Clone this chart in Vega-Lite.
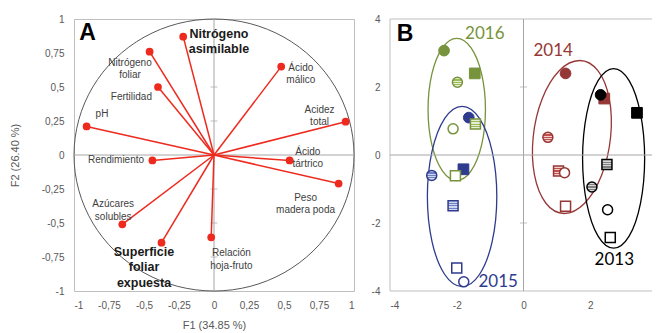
{
  "$schema": "https://vega.github.io/schema/vega-lite/v6.json",
  "background": "white",
  "padding": {"left": 8, "top": 13, "right": 0, "bottom": 0},
  "spacing": 14,
  "config": {
    "view": {"stroke": null},
    "font": "Liberation Sans",
    "axis": {"grid": false, "ticks": false, "domain": false, "labelFont": "Liberation Sans", "labelFontSize": 10, "labelColor": "#595959", "titleFont": "Liberation Sans", "titleFontSize": 11, "titleFontWeight": "normal", "titleColor": "#595959", "labelPadding": 9, "titlePadding": 9, "labelOverlap": false}
  },
  "datasets": {
    "circle": [
      {"i": 0, "x": 1, "y": 0}, {"i": 1, "x": 0.9659, "y": 0.2588}, {"i": 2, "x": 0.866, "y": 0.5}, {"i": 3, "x": 0.7071, "y": 0.7071},
      {"i": 4, "x": 0.5, "y": 0.866}, {"i": 5, "x": 0.2588, "y": 0.9659}, {"i": 6, "x": 0, "y": 1}, {"i": 7, "x": -0.2588, "y": 0.9659},
      {"i": 8, "x": -0.5, "y": 0.866}, {"i": 9, "x": -0.7071, "y": 0.7071}, {"i": 10, "x": -0.866, "y": 0.5}, {"i": 11, "x": -0.9659, "y": 0.2588},
      {"i": 12, "x": -1, "y": 0}, {"i": 13, "x": -0.9659, "y": -0.2588}, {"i": 14, "x": -0.866, "y": -0.5}, {"i": 15, "x": -0.7071, "y": -0.7071},
      {"i": 16, "x": -0.5, "y": -0.866}, {"i": 17, "x": -0.2588, "y": -0.9659}, {"i": 18, "x": 0, "y": -1}, {"i": 19, "x": 0.2588, "y": -0.9659},
      {"i": 20, "x": 0.5, "y": -0.866}, {"i": 21, "x": 0.7071, "y": -0.7071}, {"i": 22, "x": 0.866, "y": -0.5}, {"i": 23, "x": 0.9659, "y": -0.2588}
    ],
    "vars": [
      {"var": "Nitrógeno asimilable", "x": -0.22, "y": 0.87},
      {"var": "Nitrógeno foliar", "x": -0.46, "y": 0.76},
      {"var": "Fertilidad", "x": -0.40, "y": 0.50},
      {"var": "pH", "x": -0.91, "y": 0.21},
      {"var": "Ácido málico", "x": 0.48, "y": 0.65},
      {"var": "Acidez total", "x": 0.94, "y": 0.245},
      {"var": "Ácido tártrico", "x": 0.54, "y": -0.04},
      {"var": "Rendimiento", "x": -0.44, "y": -0.04},
      {"var": "Peso madera poda", "x": 0.89, "y": -0.21},
      {"var": "Azúcares solubles", "x": -0.655, "y": -0.51},
      {"var": "Superficie foliar expuesta", "x": -0.375, "y": -0.645},
      {"var": "Relación hoja-fruto", "x": -0.02, "y": -0.605}
    ],
    "labelsA": [
      {"text": "Nitrógeno\nfoliar", "x": -0.60, "y": 0.676},
      {"text": "Fertilidad", "x": -0.59, "y": 0.43},
      {"text": "pH", "x": -0.80, "y": 0.30},
      {"text": "Ácido\nmálico", "x": 0.62, "y": 0.642},
      {"text": "Acidez\ntotal", "x": 0.754, "y": 0.331},
      {"text": "Ácido\ntártrico", "x": 0.67, "y": 0.022},
      {"text": "Rendimiento", "x": -0.70, "y": -0.04},
      {"text": "Peso\nmadera poda", "x": 0.654, "y": -0.314},
      {"text": "Azúcares\nsolubles", "x": -0.72, "y": -0.3625},
      {"text": "Relación\nhoja-fruto", "x": 0.124, "y": -0.723}
    ],
    "boldA": [
      {"text": "Nitrógeno\nasimilable", "x": 0.035, "y": 0.89},
      {"text": "Superficie\nfoliar\nexpuesta", "x": -0.50, "y": -0.711}
    ],
    "ticksA": [{"y": 0.75}, {"y": 0.5}, {"y": 0.25}, {"y": -0.25}, {"y": -0.5}, {"y": -0.75}],
    "ellipses": [
      {"year": 2016, "i": 0, "x": -1.14, "y": 1.34}, {"year": 2016, "i": 1, "x": -1.255, "y": 2.385}, {"year": 2016, "i": 2, "x": -1.57, "y": 3.15},
      {"year": 2016, "i": 3, "x": -2.0, "y": 3.43}, {"year": 2016, "i": 4, "x": -2.43, "y": 3.15}, {"year": 2016, "i": 5, "x": -2.745, "y": 2.385},
      {"year": 2016, "i": 6, "x": -2.86, "y": 1.34}, {"year": 2016, "i": 7, "x": -2.745, "y": 0.295}, {"year": 2016, "i": 8, "x": -2.43, "y": -0.47},
      {"year": 2016, "i": 9, "x": -2.0, "y": -0.75}, {"year": 2016, "i": 10, "x": -1.57, "y": -0.47}, {"year": 2016, "i": 11, "x": -1.255, "y": 0.295},
      {"year": 2015, "i": 0, "x": -0.80, "y": -1.22}, {"year": 2015, "i": 1, "x": -0.939, "y": 0.105}, {"year": 2015, "i": 2, "x": -1.32, "y": 1.075},
      {"year": 2015, "i": 3, "x": -1.84, "y": 1.43}, {"year": 2015, "i": 4, "x": -2.36, "y": 1.075}, {"year": 2015, "i": 5, "x": -2.741, "y": 0.105},
      {"year": 2015, "i": 6, "x": -2.88, "y": -1.22}, {"year": 2015, "i": 7, "x": -2.741, "y": -2.545}, {"year": 2015, "i": 8, "x": -2.36, "y": -3.515},
      {"year": 2015, "i": 9, "x": -1.84, "y": -3.87}, {"year": 2015, "i": 10, "x": -1.32, "y": -3.515}, {"year": 2015, "i": 11, "x": -0.939, "y": -2.545},
      {"year": 2014, "i": 0, "x": 2.61, "y": 0.53}, {"year": 2014, "i": 1, "x": 2.57, "y": 1.655}, {"year": 2014, "i": 2, "x": 2.229, "y": 2.479},
      {"year": 2014, "i": 3, "x": 1.68, "y": 2.78}, {"year": 2014, "i": 4, "x": 1.069, "y": 2.479}, {"year": 2014, "i": 5, "x": 0.56, "y": 1.655},
      {"year": 2014, "i": 6, "x": 0.29, "y": 0.53}, {"year": 2014, "i": 7, "x": 0.33, "y": -0.595}, {"year": 2014, "i": 8, "x": 0.671, "y": -1.419},
      {"year": 2014, "i": 9, "x": 1.22, "y": -1.72}, {"year": 2014, "i": 10, "x": 1.831, "y": -1.419}, {"year": 2014, "i": 11, "x": 2.34, "y": -0.595},
      {"year": 2013, "i": 0, "x": 3.63, "y": -0.10}, {"year": 2013, "i": 1, "x": 3.505, "y": 1.22}, {"year": 2013, "i": 2, "x": 3.165, "y": 2.186},
      {"year": 2013, "i": 3, "x": 2.70, "y": 2.54}, {"year": 2013, "i": 4, "x": 2.235, "y": 2.186}, {"year": 2013, "i": 5, "x": 1.895, "y": 1.22},
      {"year": 2013, "i": 6, "x": 1.77, "y": -0.10}, {"year": 2013, "i": 7, "x": 1.895, "y": -1.42}, {"year": 2013, "i": 8, "x": 2.235, "y": -2.386},
      {"year": 2013, "i": 9, "x": 2.70, "y": -2.74}, {"year": 2013, "i": 10, "x": 3.165, "y": -2.386}, {"year": 2013, "i": 11, "x": 3.505, "y": -1.42}
    ],
    "obs": [
      {"year": 2016, "shape": "circle", "fill": "filled", "x": -2.38, "y": 3.07},
      {"year": 2016, "shape": "circle", "fill": "striped", "x": -1.98, "y": 2.14},
      {"year": 2016, "shape": "square", "fill": "filled", "x": -1.46, "y": 2.40},
      {"year": 2016, "shape": "circle", "fill": "open", "x": -2.11, "y": 0.77},
      {"year": 2016, "shape": "square", "fill": "striped", "x": -1.44, "y": 0.91},
      {"year": 2016, "shape": "square", "fill": "open", "x": -2.04, "y": -0.61},
      {"year": 2015, "shape": "circle", "fill": "filled", "x": -1.64, "y": 1.10},
      {"year": 2015, "shape": "square", "fill": "filled", "x": -1.80, "y": -0.42},
      {"year": 2015, "shape": "circle", "fill": "striped", "x": -2.75, "y": -0.60},
      {"year": 2015, "shape": "square", "fill": "striped", "x": -2.11, "y": -1.49},
      {"year": 2015, "shape": "square", "fill": "open", "x": -2.00, "y": -3.32},
      {"year": 2015, "shape": "circle", "fill": "open", "x": -1.79, "y": -3.73},
      {"year": 2014, "shape": "circle", "fill": "filled", "x": 1.26, "y": 2.40},
      {"year": 2014, "shape": "square", "fill": "filled", "x": 2.42, "y": 1.66},
      {"year": 2014, "shape": "circle", "fill": "striped", "x": 0.73, "y": 0.52},
      {"year": 2014, "shape": "square", "fill": "striped", "x": 1.05, "y": -0.47},
      {"year": 2014, "shape": "circle", "fill": "open", "x": 1.23, "y": -0.52},
      {"year": 2014, "shape": "square", "fill": "open", "x": 1.26, "y": -1.51},
      {"year": 2013, "shape": "circle", "fill": "filled", "x": 2.31, "y": 1.77},
      {"year": 2013, "shape": "square", "fill": "filled", "x": 3.40, "y": 1.24},
      {"year": 2013, "shape": "square", "fill": "striped", "x": 2.50, "y": -0.28},
      {"year": 2013, "shape": "circle", "fill": "striped", "x": 2.05, "y": -0.94},
      {"year": 2013, "shape": "circle", "fill": "open", "x": 2.52, "y": -1.61},
      {"year": 2013, "shape": "square", "fill": "open", "x": 2.60, "y": -2.43}
    ],
    "yearLabels": [
      {"year": 2016, "x": -1.16, "y": 3.57},
      {"year": 2014, "x": 0.89, "y": 3.07},
      {"year": 2015, "x": -0.76, "y": -3.73},
      {"year": 2013, "x": 2.72, "y": -3.09}
    ],
    "ticksB": [{"y": 2}, {"y": -2}]
  },
  "hconcat": [
    {
      "width": 280,
      "height": 272,
      "view": {"stroke": "#BFBFBF", "strokeWidth": 1},
      "layer": [
        {
          "data": {"name": "circle"},
          "mark": {"type": "line", "interpolate": "cardinal-closed", "color": "#595959", "strokeWidth": 1},
          "encoding": {
            "x": {"field": "x", "type": "quantitative", "scale": {"domain": [-1, 1], "nice": false, "zero": false},
              "axis": {"values": [-1, -0.75, -0.5, -0.25, 0, 0.25, 0.5, 0.75, 1], "labelExpr": "replace(replace(format(datum.value, '.2~f'), '.', ','), '−', '-')", "title": "F1 (34.85 %)"}},
            "y": {"field": "y", "type": "quantitative", "scale": {"domain": [-1, 1], "nice": false, "zero": false},
              "axis": {"values": [-1, -0.75, -0.5, -0.25, 0, 0.25, 0.5, 0.75, 1], "labelExpr": "replace(replace(format(datum.value, '.2~f'), '.', ','), '−', '-')", "title": "F2 (26.40 %)", "labelPadding": 10, "titlePadding": 21}},
            "order": {"field": "i", "type": "quantitative"}
          }
        },
        {"data": {"values": [{}]}, "mark": {"type": "rule", "color": "#A6A6A6", "strokeWidth": 1},
          "encoding": {"x": {"datum": 0, "axis": {"values": [-1, -0.75, -0.5, -0.25, 0, 0.25, 0.5, 0.75, 1], "labelExpr": "replace(replace(format(datum.value, '.2~f'), '.', ','), '−', '-')", "title": "F1 (34.85 %)"}}}},
        {"data": {"values": [{}]}, "mark": {"type": "rule", "color": "#A6A6A6", "strokeWidth": 1},
          "encoding": {"y": {"datum": 0, "axis": {"values": [-1, -0.75, -0.5, -0.25, 0, 0.25, 0.5, 0.75, 1], "labelExpr": "replace(replace(format(datum.value, '.2~f'), '.', ','), '−', '-')", "title": "F2 (26.40 %)", "labelPadding": 10, "titlePadding": 21}}}},
        {
          "data": {"name": "ticksA"},
          "mark": {"type": "tick", "orient": "horizontal", "size": 7, "thickness": 1, "color": "#A6A6A6"},
          "encoding": {
            "x": {"datum": 0, "axis": {"values": [-1, -0.75, -0.5, -0.25, 0, 0.25, 0.5, 0.75, 1], "labelExpr": "replace(replace(format(datum.value, '.2~f'), '.', ','), '−', '-')", "title": "F1 (34.85 %)"}},
            "y": {"field": "y", "type": "quantitative", "axis": {"values": [-1, -0.75, -0.5, -0.25, 0, 0.25, 0.5, 0.75, 1], "labelExpr": "replace(replace(format(datum.value, '.2~f'), '.', ','), '−', '-')", "title": "F2 (26.40 %)", "labelPadding": 10, "titlePadding": 21}}
          }
        },
        {
          "data": {"name": "vars"},
          "mark": {"type": "rule", "color": "#EE2A1E", "strokeWidth": 1.5},
          "encoding": {
            "x": {"field": "x", "type": "quantitative", "axis": {"values": [-1, -0.75, -0.5, -0.25, 0, 0.25, 0.5, 0.75, 1], "labelExpr": "replace(replace(format(datum.value, '.2~f'), '.', ','), '−', '-')", "title": "F1 (34.85 %)"}},
            "y": {"field": "y", "type": "quantitative", "axis": {"values": [-1, -0.75, -0.5, -0.25, 0, 0.25, 0.5, 0.75, 1], "labelExpr": "replace(replace(format(datum.value, '.2~f'), '.', ','), '−', '-')", "title": "F2 (26.40 %)", "labelPadding": 10, "titlePadding": 21}},
            "x2": {"datum": 0}, "y2": {"datum": 0}
          }
        },
        {
          "data": {"name": "vars"},
          "mark": {"type": "point", "filled": true, "shape": "circle", "size": 60, "color": "#EE2A1E", "opacity": 1},
          "encoding": {
            "x": {"field": "x", "type": "quantitative", "axis": {"values": [-1, -0.75, -0.5, -0.25, 0, 0.25, 0.5, 0.75, 1], "labelExpr": "replace(replace(format(datum.value, '.2~f'), '.', ','), '−', '-')", "title": "F1 (34.85 %)"}},
            "y": {"field": "y", "type": "quantitative", "axis": {"values": [-1, -0.75, -0.5, -0.25, 0, 0.25, 0.5, 0.75, 1], "labelExpr": "replace(replace(format(datum.value, '.2~f'), '.', ','), '−', '-')", "title": "F2 (26.40 %)", "labelPadding": 10, "titlePadding": 21}}
          }
        },
        {
          "data": {"name": "labelsA"},
          "mark": {"type": "text", "font": "Liberation Sans", "fontSize": 10, "color": "#404040", "align": "center", "baseline": "middle", "lineBreak": "\n", "lineHeight": 12.3},
          "encoding": {
            "x": {"field": "x", "type": "quantitative", "axis": {"values": [-1, -0.75, -0.5, -0.25, 0, 0.25, 0.5, 0.75, 1], "labelExpr": "replace(replace(format(datum.value, '.2~f'), '.', ','), '−', '-')", "title": "F1 (34.85 %)"}},
            "y": {"field": "y", "type": "quantitative", "axis": {"values": [-1, -0.75, -0.5, -0.25, 0, 0.25, 0.5, 0.75, 1], "labelExpr": "replace(replace(format(datum.value, '.2~f'), '.', ','), '−', '-')", "title": "F2 (26.40 %)", "labelPadding": 10, "titlePadding": 21}},
            "text": {"field": "text"}
          }
        },
        {
          "data": {"name": "boldA"},
          "mark": {"type": "text", "font": "Liberation Sans", "fontSize": 12.5, "fontWeight": "bold", "color": "#1A1A1A", "align": "center", "baseline": "middle", "lineBreak": "\n", "lineHeight": 15.5},
          "encoding": {
            "x": {"field": "x", "type": "quantitative", "axis": {"values": [-1, -0.75, -0.5, -0.25, 0, 0.25, 0.5, 0.75, 1], "labelExpr": "replace(replace(format(datum.value, '.2~f'), '.', ','), '−', '-')", "title": "F1 (34.85 %)"}},
            "y": {"field": "y", "type": "quantitative", "axis": {"values": [-1, -0.75, -0.5, -0.25, 0, 0.25, 0.5, 0.75, 1], "labelExpr": "replace(replace(format(datum.value, '.2~f'), '.', ','), '−', '-')", "title": "F2 (26.40 %)", "labelPadding": 10, "titlePadding": 21}},
            "text": {"field": "text"}
          }
        },
        {
          "data": {"values": [{"t": "A"}]},
          "mark": {"type": "text", "font": "Liberation Sans", "fontSize": 23, "fontWeight": "bold", "color": "#000000", "align": "left", "baseline": "middle"},
          "encoding": {
            "x": {"datum": -0.962, "axis": {"values": [-1, -0.75, -0.5, -0.25, 0, 0.25, 0.5, 0.75, 1], "labelExpr": "replace(replace(format(datum.value, '.2~f'), '.', ','), '−', '-')", "title": "F1 (34.85 %)"}},
            "y": {"datum": 0.897, "axis": {"values": [-1, -0.75, -0.5, -0.25, 0, 0.25, 0.5, 0.75, 1], "labelExpr": "replace(replace(format(datum.value, '.2~f'), '.', ','), '−', '-')", "title": "F2 (26.40 %)", "labelPadding": 10, "titlePadding": 21}},
            "text": {"field": "t"}
          }
        }
      ]
    },
    {
      "width": 262,
      "height": 272,
      "layer": [
        {
          "data": {"name": "ellipses"},
          "mark": {"type": "line", "interpolate": "cardinal-closed", "strokeWidth": 1.3},
          "encoding": {
            "x": {"field": "x", "type": "quantitative", "scale": {"domain": [-4, 3.85], "nice": false, "zero": false},
              "axis": {"values": [-4, -2, 0, 2], "labelExpr": "replace(format(datum.value, 'd'), '−', '-')", "title": null}},
            "y": {"field": "y", "type": "quantitative", "scale": {"domain": [-4, 4], "nice": false, "zero": false},
              "axis": {"values": [-4, -2, 0, 2, 4], "labelExpr": "replace(format(datum.value, 'd'), '−', '-')", "title": null, "labelPadding": 10}},
            "stroke": {"field": "year", "type": "nominal", "scale": {"domain": [2013, 2014, 2015, 2016], "range": ["#000000", "#953735", "#2E3B8E", "#77933C"]}, "legend": null},
            "detail": {"field": "year", "type": "nominal"},
            "order": {"field": "i", "type": "quantitative"}
          }
        },
        {"data": {"values": [{}]}, "mark": {"type": "rule", "color": "#BFBFBF", "strokeWidth": 1}, "encoding": {"x": {"datum": -4}}},
        {"data": {"values": [{}]}, "mark": {"type": "rule", "color": "#BFBFBF", "strokeWidth": 1}, "encoding": {"y": {"datum": 4}}},
        {"data": {"values": [{}]}, "mark": {"type": "rule", "color": "#BFBFBF", "strokeWidth": 1}, "encoding": {"y": {"datum": -4}}},
        {"data": {"values": [{}]}, "mark": {"type": "rule", "color": "#A6A6A6", "strokeWidth": 1}, "encoding": {"x": {"datum": 0}}},
        {"data": {"values": [{}]}, "mark": {"type": "rule", "color": "#A6A6A6", "strokeWidth": 1}, "encoding": {"y": {"datum": 0}}},
        {
          "data": {"name": "ticksB"},
          "mark": {"type": "tick", "orient": "horizontal", "size": 7, "thickness": 1, "color": "#A6A6A6"},
          "encoding": {"x": {"datum": 0}, "y": {"field": "y", "type": "quantitative"}}
        },
        {
          "data": {"name": "obs"},
          "transform": [{"filter": "datum.fill === 'filled'"}],
          "mark": {"type": "point", "filled": true, "size": 115, "opacity": 1, "strokeWidth": 1},
          "encoding": {
            "x": {"field": "x", "type": "quantitative"},
            "y": {"field": "y", "type": "quantitative"},
            "shape": {"field": "shape", "type": "nominal", "scale": {"domain": ["circle", "square"], "range": ["circle", "square"]}, "legend": null},
            "fill": {"field": "year", "type": "nominal", "scale": {"domain": [2013, 2014, 2015, 2016], "range": ["#000000", "#953735", "#2E3B8E", "#77933C"]}, "legend": null},
            "stroke": {"field": "year", "type": "nominal", "legend": null}
          }
        },
        {
          "data": {"name": "obs"},
          "transform": [{"filter": "datum.fill === 'striped'"}],
          "mark": {"type": "point", "filled": true, "size": 100, "opacity": 1, "strokeWidth": 1.5},
          "encoding": {
            "x": {"field": "x", "type": "quantitative"},
            "y": {"field": "y", "type": "quantitative"},
            "shape": {"field": "shape", "type": "nominal", "legend": null},
            "stroke": {"field": "year", "type": "nominal", "legend": null},
            "fill": {
              "condition": [
                {"test": "datum.year === 2016", "value": {"gradient": "linear", "x1": 0, "y1": 0, "x2": 0, "y2": 1, "stops": [
                  {"offset": 0, "color": "#E6EED5"}, {"offset": 0.2, "color": "#E6EED5"}, {"offset": 0.2, "color": "#9BBB59"}, {"offset": 0.33, "color": "#9BBB59"},
                  {"offset": 0.33, "color": "#E6EED5"}, {"offset": 0.45, "color": "#E6EED5"}, {"offset": 0.45, "color": "#9BBB59"}, {"offset": 0.57, "color": "#9BBB59"},
                  {"offset": 0.57, "color": "#E6EED5"}, {"offset": 0.69, "color": "#E6EED5"}, {"offset": 0.69, "color": "#9BBB59"}, {"offset": 0.81, "color": "#9BBB59"},
                  {"offset": 0.81, "color": "#E6EED5"}, {"offset": 1, "color": "#E6EED5"}]}},
                {"test": "datum.year === 2015", "value": {"gradient": "linear", "x1": 0, "y1": 0, "x2": 0, "y2": 1, "stops": [
                  {"offset": 0, "color": "#D0D6EE"}, {"offset": 0.2, "color": "#D0D6EE"}, {"offset": 0.2, "color": "#6E7FC4"}, {"offset": 0.33, "color": "#6E7FC4"},
                  {"offset": 0.33, "color": "#D0D6EE"}, {"offset": 0.45, "color": "#D0D6EE"}, {"offset": 0.45, "color": "#6E7FC4"}, {"offset": 0.57, "color": "#6E7FC4"},
                  {"offset": 0.57, "color": "#D0D6EE"}, {"offset": 0.69, "color": "#D0D6EE"}, {"offset": 0.69, "color": "#6E7FC4"}, {"offset": 0.81, "color": "#6E7FC4"},
                  {"offset": 0.81, "color": "#D0D6EE"}, {"offset": 1, "color": "#D0D6EE"}]}},
                {"test": "datum.year === 2014", "value": {"gradient": "linear", "x1": 0, "y1": 0, "x2": 0, "y2": 1, "stops": [
                  {"offset": 0, "color": "#F0CFCE"}, {"offset": 0.2, "color": "#F0CFCE"}, {"offset": 0.2, "color": "#C0504D"}, {"offset": 0.33, "color": "#C0504D"},
                  {"offset": 0.33, "color": "#F0CFCE"}, {"offset": 0.45, "color": "#F0CFCE"}, {"offset": 0.45, "color": "#C0504D"}, {"offset": 0.57, "color": "#C0504D"},
                  {"offset": 0.57, "color": "#F0CFCE"}, {"offset": 0.69, "color": "#F0CFCE"}, {"offset": 0.69, "color": "#C0504D"}, {"offset": 0.81, "color": "#C0504D"},
                  {"offset": 0.81, "color": "#F0CFCE"}, {"offset": 1, "color": "#F0CFCE"}]}}
              ],
              "value": {"gradient": "linear", "x1": 0, "y1": 0, "x2": 0, "y2": 1, "stops": [
                {"offset": 0, "color": "#D9D9D9"}, {"offset": 0.2, "color": "#D9D9D9"}, {"offset": 0.2, "color": "#7F7F7F"}, {"offset": 0.33, "color": "#7F7F7F"},
                {"offset": 0.33, "color": "#D9D9D9"}, {"offset": 0.45, "color": "#D9D9D9"}, {"offset": 0.45, "color": "#7F7F7F"}, {"offset": 0.57, "color": "#7F7F7F"},
                {"offset": 0.57, "color": "#D9D9D9"}, {"offset": 0.69, "color": "#D9D9D9"}, {"offset": 0.69, "color": "#7F7F7F"}, {"offset": 0.81, "color": "#7F7F7F"},
                {"offset": 0.81, "color": "#D9D9D9"}, {"offset": 1, "color": "#D9D9D9"}]}
            }
          }
        },
        {
          "data": {"name": "obs"},
          "transform": [{"filter": "datum.fill === 'open'"}],
          "mark": {"type": "point", "filled": true, "fill": "white", "size": 100, "opacity": 1, "strokeWidth": 1.5},
          "encoding": {
            "x": {"field": "x", "type": "quantitative"},
            "y": {"field": "y", "type": "quantitative"},
            "shape": {"field": "shape", "type": "nominal", "legend": null},
            "stroke": {"field": "year", "type": "nominal", "legend": null}
          }
        },
        {
          "data": {"name": "yearLabels"},
          "mark": {"type": "text", "font": "Lato", "fontSize": 17, "align": "center", "baseline": "middle"},
          "encoding": {
            "x": {"field": "x", "type": "quantitative"},
            "y": {"field": "y", "type": "quantitative"},
            "text": {"field": "year", "type": "nominal"},
            "fill": {"field": "year", "type": "nominal", "legend": null}
          }
        },
        {
          "data": {"values": [{"t": "B"}]},
          "mark": {"type": "text", "font": "Liberation Sans", "fontSize": 23, "fontWeight": "bold", "color": "#000000", "align": "left", "baseline": "middle"},
          "encoding": {"x": {"datum": -3.8}, "y": {"datum": 3.56}, "text": {"field": "t"}}
        }
      ]
    }
  ]
}
